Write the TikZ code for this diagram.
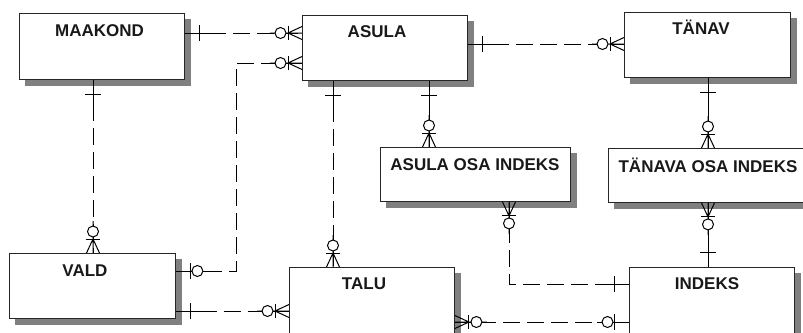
\documentclass[tikz,border=0pt]{standalone}
\usepackage{fontspec}
\setmainfont{Liberation Sans}
\usetikzlibrary{backgrounds}
\tikzset{
  ent/.style={draw=black!85, line width=0.9pt, fill=white, anchor=north west, inner sep=0pt},
  shad/.style={fill=black!50},
  lbl/.style={anchor=base, inner sep=0pt, font=\bfseries\fontsize{17}{17}\selectfont, text=black!90},
  rel/.style={line width=1pt, dash pattern=on 17pt off 7pt},
  idrel/.style={line width=1pt},
  sym/.style={line width=1pt},
  pics/onebar/.style={code={
    \draw[sym] (0pt,0pt) -- (27pt,0pt);
    \draw[sym] (15pt,-8pt) -- (15pt,8pt);}},
  pics/zeroone/.style={code={
    \draw[sym] (0pt,0pt) -- (16pt,0pt) (27pt,0pt) -- (32pt,0pt);
    \draw[sym] (15pt,-8pt) -- (15pt,8pt);
    \draw[sym, fill=white] (21.5pt,0pt) circle (5.5pt);}},
  pics/zeromany/.style={code={
    \draw[sym] (0pt,6.5pt) -- (14pt,0pt) -- (0pt,-6.5pt) (0pt,0pt) -- (16pt,0pt) (27pt,0pt) -- (32pt,0pt);
    \draw[sym] (14pt,-7pt) -- (14pt,7pt);
    \draw[sym, fill=white] (21.5pt,0pt) circle (5.5pt);}},
}
\begin{document}
\begin{tikzpicture}[x=1pt, y=-1pt]
\useasboundingbox (0,0) rectangle (803,332);
\clip (0,0) rectangle (803,332);
% entities
\node[ent, minimum width=165pt, minimum height=66pt] (maakond) at (19,13) {};
\node[ent, minimum width=165pt, minimum height=65pt] (asula) at (302,15) {};
\node[ent, minimum width=166pt, minimum height=65pt] (tanav) at (624,12) {};
\node[ent, minimum width=166pt, minimum height=65pt] (vald) at (9,253) {};
\node[ent, minimum width=165pt, minimum height=70pt] (talu) at (289,267) {};
\node[ent, minimum width=165pt, minimum height=70pt] (indeks) at (629,267) {};
\node[ent, minimum width=190pt, minimum height=54pt] (aoi) at (380,147) {};
\node[ent, minimum width=200pt, minimum height=54pt] (toi) at (608,148) {};
\begin{pgfonlayer}{background}
\fill[white] (0,0) rectangle (803,332);
\foreach \b in {maakond,asula,tanav,vald,talu,indeks,aoi,toi}{
  \fill[shad] ([xshift=6pt,yshift=-6pt]\b.south west) rectangle ([xshift=6pt,yshift=-6pt]\b.north east);
}
\end{pgfonlayer}
% labels
\node[lbl] (tmaakond) at (99.5,36) {MAAKOND};
\node[lbl] (tasula) at (377,37) {ASULA};
\node[lbl] (ttanav) at (701,34) {TÄNAV};
\node[lbl] (tvald) at (85,276) {VALD};
\node[lbl] (ttalu) at (364,289) {TALU};
\node[lbl] (tindeks) at (707,289) {INDEKS};
\node[lbl] (taoi) at (475,170) {ASULA OSA INDEKS};
\node[lbl] (ttoi) at (708,172) {TÄNAVA OSA INDEKS};
% connectors
\draw[rel] (maakond.east |- 0,33) coordinate (c1a) -- (asula.west |- 0,33) coordinate (c1b);
\draw[rel] (maakond.south -| 93,0) coordinate (c2a) -- (vald.north -| 93,0) coordinate (c2b);
\coordinate (k3a) at (236,63);
\coordinate (k3b) at (236,271);
\draw[rel] (asula.west |- 0,63) coordinate (c3a) -- (k3a) -- (k3b) -- (vald.east |- 0,271) coordinate (c3b);
\draw[rel] (asula.east |- 0,44) coordinate (c4a) -- (tanav.west |- 0,44) coordinate (c4b);
\draw[rel] (asula.south -| 333,0) coordinate (c5a) -- (talu.north -| 333,0) coordinate (c5b);
\draw[idrel] (asula.south -| 429,0) coordinate (c6a) -- (aoi.north -| 429,0) coordinate (c6b);
\draw[idrel] (tanav.south -| 708,0) coordinate (c7a) -- (toi.north -| 708,0) coordinate (c7b);
\coordinate (k8) at (509,284);
\draw[rel] (aoi.south -| 509,0) coordinate (c8a) -- (k8) -- (indeks.west |- 0,284) coordinate (c8b);
\draw[idrel] (toi.south -| 708,0) coordinate (c9a) -- (indeks.north -| 708,0) coordinate (c9b);
\draw[rel] (vald.east |- 0,311) coordinate (c10a) -- (talu.west |- 0,311) coordinate (c10b);
\draw[rel] (talu.east |- 0,322) coordinate (c11a) -- (indeks.west |- 0,322) coordinate (c11b);
% end symbols
\pic[rotate=0] at (c1a) {onebar};
\pic[rotate=180] at (c1b) {zeromany};
\pic[rotate=-90] at (c2a) {onebar};
\pic[rotate=90] at (c2b) {zeromany};
\pic[rotate=180] at (c3a) {zeromany};
\pic[rotate=0] at (c3b) {zeroone};
\pic[rotate=0] at (c4a) {onebar};
\pic[rotate=180] at (c4b) {zeromany};
\pic[rotate=-90] at (c5a) {onebar};
\pic[rotate=90] at (c5b) {zeromany};
\pic[rotate=-90] at (c6a) {onebar};
\pic[rotate=90] at (c6b) {zeromany};
\pic[rotate=-90] at (c7a) {onebar};
\pic[rotate=90] at (c7b) {zeromany};
\pic[rotate=-90] at (c8a) {zeromany};
\pic[rotate=180] at (c8b) {onebar};
\pic[rotate=-90] at (c9a) {zeromany};
\pic[rotate=90] at (c9b) {onebar};
\pic[rotate=0] at (c10a) {onebar};
\pic[rotate=180] at (c10b) {zeromany};
\pic[rotate=0] at (c11a) {zeromany};
\pic[rotate=180] at (c11b) {zeroone};
\end{tikzpicture}
\end{document}
